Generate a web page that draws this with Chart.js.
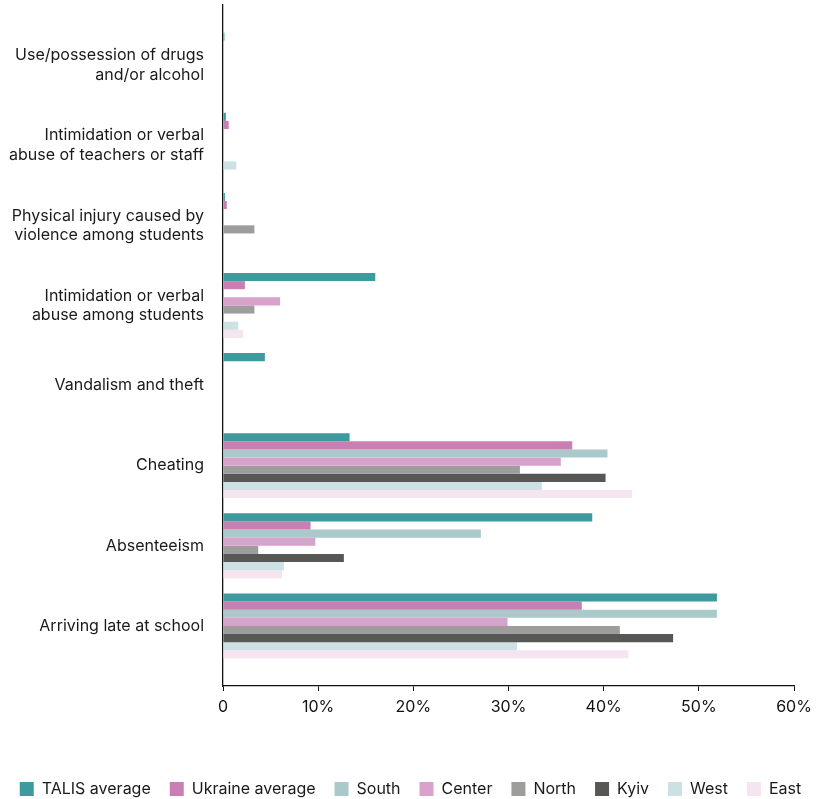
<!DOCTYPE html>
<html>
<head>
<meta charset="utf-8">
<script src="https://cdn.jsdelivr.net/npm/chart.js@4.4.1/dist/chart.umd.min.js"></script>
<style>
  html, body { margin: 0; padding: 0; background: #ffffff; }
  #wrap { width: 821px; height: 799px; position: relative; }
</style>
</head>
<body>
<div id="wrap"><canvas id="chart"></canvas></div>
<script>
// ---- Data (values in %) ----
const categories = [
  ["Use/possession of drugs", "and/or alcohol"],
  ["Intimidation or verbal", "abuse of teachers or staff"],
  ["Physical injury caused by", "violence among students"],
  ["Intimidation or verbal", "abuse among students"],
  "Vandalism and theft",
  "Cheating",
  "Absenteeism",
  "Arriving late at school"
];
const seriesNames = ["TALIS average", "Ukraine average", "South", "Center", "North", "Kyiv", "West", "East"];
const talisAverage   = [0.15, 0.3, 0.2, 16.0, 4.4, 13.3, 38.8, 51.9];
const ukraineAverage = [0,    0.6, 0.4, 2.3,  0,   36.7, 9.2,  37.7];
const south          = [0,    0,   0,   0,    0,   40.4, 27.1, 51.9];
const center         = [0,    0,   0,   6.0,  0,   35.5, 9.7,  29.9];
const north          = [0,    0,   3.3, 3.3,  0,   31.2, 3.7,  41.7];
const kyiv           = [0,    0,   0,   0,    0,   40.2, 12.7, 47.3];
const west           = [0,    1.4, 0,   1.6,  0,   33.5, 6.4,  30.9];
const east           = [0,    0,   0,   2.1,  0,   43.0, 6.2,  42.6];
const xTickLabels = ["0", "10%", "20%", "30%", "40%", "50%", "60%"];

// ---- Styles ----
const seriesValues = [talisAverage, ukraineAverage, south, center, north, kyiv, west, east];
const seriesColors = ["#3f9a9f", "#c97fb3", "#a9c9cb", "#d8a2ca", "#9d9d9b", "#575756", "#cde0e3", "#f4e5f1"];
const FONT = "Inter, 'Noto Sans', sans-serif";

const datasets = seriesNames.map((name, s) => ({
  label: name,
  data: seriesValues[s].map((v, i) => ({ x: v, y: i })),
  backgroundColor: seriesColors[s],
  borderWidth: 0,
  categoryPercentage: 0.81,
  barPercentage: 1.0
}));

const legendShift = {
  id: "legendShift",
  afterLayout(chart) {
    if (chart.legend) {
      chart.legend.top += 8;
      chart.legend.bottom += 8;
    }
  }
};

Chart.defaults.font.family = FONT;
new Chart(document.getElementById("chart"), {
  type: "bar",
  data: { datasets },
  plugins: [legendShift],
  options: {
    indexAxis: "y",
    responsive: true,
    maintainAspectRatio: false,
    animation: false,
    layout: { padding: { top: 5, right: 0, bottom: 0, left: 0 } },
    plugins: {
      legend: {
        position: "bottom",
        labels: {
          font: { size: 16, family: FONT },
          color: "#1a1a1a",
          boxWidth: 14,
          boxHeight: 14,
          padding: 19
        }
      },
      tooltip: { enabled: false }
    },
    scales: {
      y: {
        type: "linear",
        reverse: true,
        offset: false,
        min: -0.75,
        max: 7.75,
        afterBuildTicks(scale) {
          scale.ticks = categories.map((_, i) => ({ value: i }));
        },
        afterFit(scale) {
          scale.width = 223;
          scale.paddingTop = 0;
          scale.paddingBottom = 0;
        },
        ticks: {
          autoSkip: false,
          font: { size: 16, family: FONT },
          color: "#1a1a1a",
          padding: 11,
          callback: (v) => categories[v]
        },
        grid: { display: false, offset: false },
        border: { display: true, color: "#111111", width: 1.3 }
      },
      x: {
        type: "linear",
        min: 0,
        max: 60,
        afterFit(scale) {
          scale.height = 68;
          scale.paddingRight = 27;
        },
        ticks: {
          stepSize: 10,
          font: { size: 16, family: FONT },
          color: "#111111",
          padding: 7,
          maxRotation: 0,
          callback: (v) => xTickLabels[Math.round(v / 10)]
        },
        grid: { drawOnChartArea: false, drawTicks: true, tickLength: 5, color: "#111111", lineWidth: 1 },
        border: { display: true, color: "#111111", width: 1.3 }
      }
    }
  }
});
</script>
</body>
</html>
